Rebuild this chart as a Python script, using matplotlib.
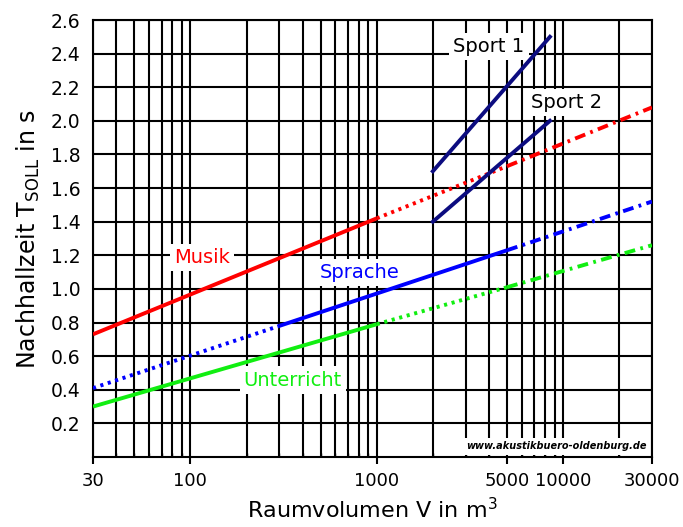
import matplotlib.pyplot as plt
from matplotlib.ticker import LogLocator, FixedLocator, NullFormatter

plt.rcParams['font.family'] = 'DejaVu Sans'

# volumes (m^3) at segment breaks and read-off reverberation times (s)
musik_v = [30, 1000, 5000, 30000]
musik_t = [0.73, 1.42, 1.73, 2.08]
musik_styles = ['solid', 'dotted', 'dashdot']

sprache_v = [30, 300, 5000, 30000]
sprache_t = [0.41, 0.78, 1.23, 1.52]
sprache_styles = ['dotted', 'solid', 'dashdot']

unterricht_v = [30, 1000, 5000, 30000]
unterricht_t = [0.30, 0.79, 1.01, 1.26]
unterricht_styles = ['solid', 'dotted', 'dashdot']

sport1_v = [2000, 8500]
sport1_t = [1.70, 2.50]
sport2_v = [2000, 8500]
sport2_t = [1.40, 2.00]

xticks = [30, 100, 1000, 5000, 10000, 30000]
xticklabels = ['30', '100', '1000', '5000', '10000', '30000']
yticks = [0.2, 0.4, 0.6, 0.8, 1.0, 1.2, 1.4, 1.6, 1.8, 2.0, 2.2, 2.4, 2.6]

dash_styles = {
    'solid': '-',
    'dotted': (0, (0.8, 1.2)),
    'dashdot': (0, (2.8, 1.4, 0.7, 1.4)),
}

fig = plt.figure(figsize=(6.83, 5.27), dpi=100)
ax = fig.add_axes([93/683, 1 - 457/527, (652 - 93)/683, (457 - 20)/527])

def draw(vs, ts, styles, color):
    for i, st in enumerate(styles):
        ax.plot(vs[i:i+2], ts[i:i+2], color=color, lw=2.8,
                linestyle=dash_styles[st], zorder=3, solid_capstyle='butt')

draw(musik_v, musik_t, musik_styles, '#ff0000')
draw(sprache_v, sprache_t, sprache_styles, '#0000ff')
draw(unterricht_v, unterricht_t, unterricht_styles, '#11ee11')
ax.plot(sport1_v, sport1_t, color='#0c0c80', lw=2.8, zorder=3)
ax.plot(sport2_v, sport2_t, color='#0c0c80', lw=2.8, zorder=3)

ax.set_xscale('log')
ax.set_xlim(30, 30000)
ax.set_ylim(0, 2.6)

ax.xaxis.set_major_locator(FixedLocator(xticks))
ax.set_xticklabels(xticklabels)
ax.xaxis.set_minor_locator(LogLocator(base=10, subs=range(1, 10)))
ax.xaxis.set_minor_formatter(NullFormatter())
ax.set_yticks(yticks)
ax.set_yticklabels(['%.1f' % y for y in yticks])

ax.grid(True, which='both', axis='x', color='black', lw=1.5)
ax.grid(True, which='major', axis='y', color='black', lw=1.5)
ax.set_axisbelow(True)
for s in ax.spines.values():
    s.set_linewidth(1.5)

ax.tick_params(axis='x', which='major', direction='out', length=5, width=1.5,
               labelsize=13, pad=6)
ax.tick_params(axis='x', which='minor', direction='in', length=3, width=1)
ax.tick_params(axis='y', length=0, labelsize=13.5, pad=9)

ax.set_xlabel('Raumvolumen V in m$^{\\mathregular{3}}$', fontsize=16, labelpad=5)
ax.set_ylabel('Nachhallzeit T$_{\\mathregular{SOLL}}$ in s', fontsize=17, labelpad=6)

box = dict(facecolor='white', edgecolor='none', pad=3)
lab = dict(fontsize=14, ha='center', va='center', bbox=box, zorder=2)
ax.text(116, 1.185, 'Musik', color='#ff0000', **lab)
ax.text(810, 1.10, 'Sprache', color='#0000ff', **lab)
ax.text(354, 0.458, 'Unterricht', color='#11ee11', **lab)
ax.text(4000, 2.44, 'Sport 1', color='black', **lab)
ax.text(10500, 2.11, 'Sport 2', color='black', **lab)

ax.text(0.99, 0.025, 'www.akustikbuero-oldenburg.de', transform=ax.transAxes,
        fontsize=7, style='italic', weight='bold', ha='right', va='center',
        bbox=dict(facecolor='white', edgecolor='none', pad=2.5), zorder=2)

fig.savefig('out.png', dpi=100)
